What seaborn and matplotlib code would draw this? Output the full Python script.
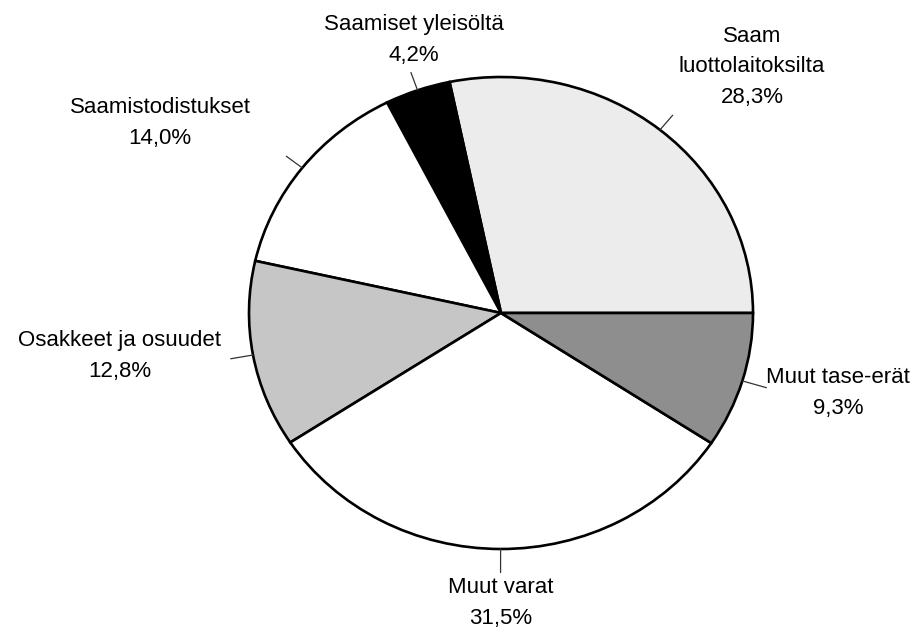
import numpy as np
import seaborn as sns
from matplotlib import pyplot as plt

# slice data, counter-clockwise from 3 o'clock
labels = ["Saam\nluottolaitoksilta", "Saamiset yleisöltä", "Saamistodistukset",
          "Osakkeet ja osuudet", "Muut varat", "Muut tase-erät"]
shares = [28.3, 4.2, 14.0, 12.8, 31.5, 9.3]
pct_text = ["28,3%", "4,2%", "14,0%", "12,8%", "31,5%", "9,3%"]
fills = ["#ececec", "#000000", "#ffffff", "#c6c6c6", "#ffffff", "#8e8e8e"]

# label centres in pixels (x, y from top) and leader line length
label_px = [(752, 67), (414, 40), (160, 123), (120, 356), (501, 603), (838, 393)]
leader_len = [1.08, 1.08, 1.08, 1.09, 1.1, 1.1]

W, H = 915, 631
CX, CY, RX, RY = 501, 313, 252, 236

sns.set_style("white")
plt.rcParams['font.family'] = ['Liberation Sans', 'DejaVu Sans']

fig = plt.figure(figsize=(W / 100, H / 100), dpi=100)
ax = fig.add_axes([0, 0, 1, 1])

wedges, _ = ax.pie(shares, colors=fills, startangle=0, counterclock=True,
                   wedgeprops=dict(edgecolor="black", linewidth=1.9))

# the scanned pie is slightly squashed, so stretch the axes instead of equal aspect
ax.set_aspect("auto")
ax.set_xlim(-CX / RX, (W - CX) / RX)
ax.set_ylim(-(H - CY) / RY, CY / RY)
ax.axis("off")

for w, lab, pct, (px, py), ll in zip(wedges, labels, pct_text, label_px, leader_len):
    mid = np.deg2rad((w.theta1 + w.theta2) / 2)
    ax.plot([np.cos(mid), ll * np.cos(mid)], [np.sin(mid), ll * np.sin(mid)],
            color="#333333", lw=0.9)
    x = (px - CX) / RX
    y = (CY - py) / RY
    ax.text(x, y, lab + "\n" + pct, ha="center", va="center", fontsize=16,
            linespacing=1.6, color="black")

plt.savefig("out.png", dpi=100)
